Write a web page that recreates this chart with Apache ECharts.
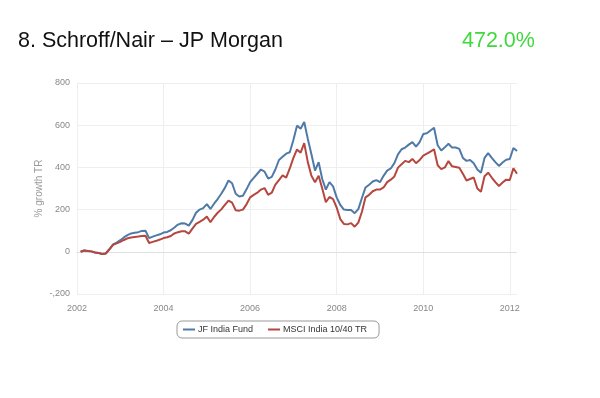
<!DOCTYPE html>
<html>
<head>
<meta charset="utf-8">
<script src="https://cdn.jsdelivr.net/npm/echarts@6/dist/echarts.min.js"></script>
<style>
  html, body { margin: 0; padding: 0; background: #fff; }
  #main { width: 600px; height: 398px; }
</style>
</head>
<body>
<div id="main"></div>
<script>
// 月度数据：2002-02 ~ 2012-02
var fundName = 'JF India Fund';
var indexName = 'MSCI India 10/40 TR';
var fundValues = [
  0, 6, 4, 2, -3, -6, -10, -8, 13, 35, 44,
  55, 68, 79, 87, 90, 93, 99, 100, 65, 72, 78, 83,
  91, 94, 102, 115, 129, 135, 134, 124, 150, 185, 200, 207,
  226, 203, 228, 250, 275, 303, 338, 325, 275, 262, 266, 296,
  330, 350, 370, 390, 380, 347, 355, 390, 435, 450, 465, 472,
  530, 598, 583, 615, 535, 462, 385, 425, 345, 295, 330, 310,
  258, 222, 200, 198, 198, 183, 202, 255, 305, 318, 333, 340,
  330, 360, 385, 395, 420, 462, 486, 494, 508, 520, 498, 520,
  558, 562, 575, 588, 505, 480, 495, 512, 494, 494, 488, 445,
  431, 435, 420, 390, 375, 445, 468, 445, 425, 407, 423, 436,
  440, 492, 478
];
var indexValues = [
  0, 6, 4, 2, -3, -6, -10, -8, 12, 33, 40,
  47, 56, 64, 68, 70, 72, 75, 76, 42, 47, 52, 58,
  65, 69, 75, 87, 93, 97, 97, 86, 110, 132, 142, 152,
  167, 140, 165, 185, 201, 222, 243, 233, 197, 195, 200, 225,
  258, 270, 280, 295, 302, 270, 280, 318, 340, 362, 352, 395,
  445, 485, 470, 515, 425, 360, 330, 360, 300, 235, 260, 250,
  210, 155, 132, 130, 136, 119, 138, 190, 258, 270, 287, 295,
  295, 305, 330, 342, 357, 399, 415, 431, 425, 440, 420, 435,
  456, 465, 475, 486, 410, 392, 400, 430, 405, 402, 398, 370,
  338, 345, 352, 300, 285, 358, 375, 352, 330, 312, 328, 342,
  340, 396, 370
];
var yTicks = [-200, 0, 200, 400, 600, 800];

// 横轴：2002-01 到 2012-03 的月份
var months = [];
for (var y = 2002; y <= 2012; y++) {
  for (var m = 1; m <= 12; m++) {
    if (y === 2012 && m > 3) break;
    months.push(y + '-' + (m < 10 ? '0' + m : m));
  }
}
// 首月与末月无数据
var fundData = [null].concat(fundValues);
var indexData = [null].concat(indexValues);

function everyTwoYears(idx) {
  return idx % 24 === 0;
}

var font = 'Liberation Sans, Arial';
var chart = echarts.init(document.getElementById('main'));
var option = {
  backgroundColor: '#fff',
  animation: false,
  title: [
    {
      text: '8. Schroff/Nair \u2013 JP Morgan',
      left: 18, top: 30, padding: 0,
      textStyle: { fontFamily: font, fontSize: 21.5, fontWeight: 'normal', color: '#111' }
    },
    {
      text: '472.0%',
      left: 462, top: 30, padding: 0,
      textStyle: { fontFamily: font, fontSize: 21.5, fontWeight: 'normal', color: '#3fd93f' }
    }
  ],
  legend: {
    data: [fundName, indexName],
    left: 177, top: 321,
    padding: [4, 12, 4, 6],
    itemGap: 15,
    itemWidth: 12, itemHeight: 2,
    icon: 'rect',
    borderColor: '#999', borderWidth: 1, borderRadius: 5,
    textStyle: { fontFamily: font, fontSize: 9, color: '#333', padding: [0, 0, 0, -2] }
  },
  grid: { left: 77, right: 83, top: 83, bottom: 104 },
  xAxis: {
    type: 'category',
    data: months,
    boundaryGap: false,
    axisLine: { show: true, lineStyle: { color: '#ddd', type: 'dotted' } },
    axisTick: { show: false },
    axisLabel: {
      interval: everyTwoYears,
      margin: 10,
      color: '#888', fontSize: 9, fontFamily: font,
      formatter: function (v) { return v.slice(0, 4); }
    },
    splitLine: { show: true, interval: everyTwoYears, lineStyle: { color: '#eee', width: 1 } }
  },
  yAxis: {
    type: 'value',
    min: yTicks[0], max: yTicks[yTicks.length - 1], interval: 200,
    name: '% growth TR',
    nameLocation: 'middle',
    nameGap: 33,
    nameMoveOverlap: false,
    nameTextStyle: { color: '#999', fontSize: 10, fontFamily: font },
    axisLine: { show: false },
    axisTick: { show: false },
    axisLabel: {
      margin: 7,
      color: '#888', fontSize: 9, fontFamily: font,
      // 原图负数标签显示为 "-,200"
      formatter: function (v) { return v < 0 ? '-,' + Math.abs(v) : String(v); }
    },
    splitLine: { lineStyle: { color: '#eee', width: 1 } }
  },
  series: [
    {
      name: fundName,
      type: 'line',
      data: fundData,
      showSymbol: false,
      symbol: 'none',
      lineStyle: { color: '#4f7aa8', width: 2 },
      itemStyle: { color: '#4f7aa8' }
    },
    {
      name: indexName,
      type: 'line',
      data: indexData,
      showSymbol: false,
      symbol: 'none',
      lineStyle: { color: '#b5473f', width: 2 },
      itemStyle: { color: '#b5473f' }
    }
  ]
};
chart.setOption(option);
</script>
</body>
</html>
